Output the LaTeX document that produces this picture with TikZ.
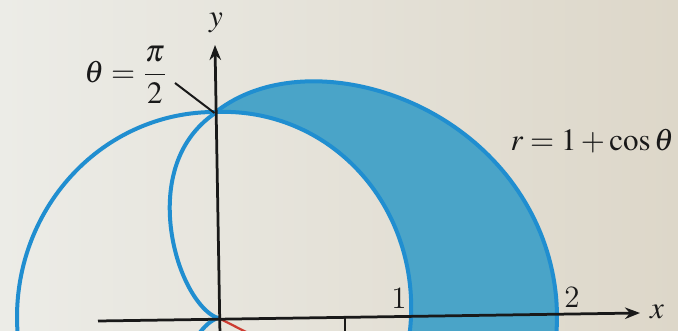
\documentclass[tikz,border=0pt]{standalone}
\usepackage{mathptmx}
\usetikzlibrary{arrows.meta}
\definecolor{cblue}{RGB}{32,142,208}
\definecolor{cfill}{RGB}{74,164,200}
\definecolor{bgL}{RGB}{236,236,231}
\definecolor{bgR}{RGB}{221,215,201}
\definecolor{ink}{RGB}{25,25,25}
\definecolor{cred}{RGB}{205,60,50}
\tikzset{
  curve/.style={cblue, line width=1.6pt, line join=round},
  axisline/.style={ink, line width=1.1pt, -{Stealth[length=6pt,width=4.6pt]}},
  lbl/.style={ink, font=\fontsize{12.4}{14}\selectfont, inner sep=0pt},
  thinline/.style={ink, line width=0.8pt},
}
\begin{document}
\begin{tikzpicture}[x=0.4pt,y=-0.4pt,
  declare function={
    cr(\t)=195.6+151.7*cos(\t)-98*cos(\t)*cos(\t)+93.2*cos(\t)*cos(\t)*cos(\t);
    ci(\t)=196.5+4.5*sin(2*\t);
    gy(\y)=280*\y-75.5*\y*\y;
    lx(\t)=214.5-4.5*cos(\t)+188*(1+cos(\t))*cos(\t);
    ly(\t)=318-gy((1+cos(\t))*sin(\t));
  }]
\useasboundingbox (0,0) rectangle (678,331);
\shade[left color=bgL, right color=bgR] (0,0) rectangle (678,331);

\coordinate (O) at (218.5,318);
\coordinate (P) at (214.5,113);
\coordinate (lead) at (175,83);

% shaded region between circle and cardioid
\fill[cfill] plot[domain=0:98, samples=90] ({214.5+cr(90-\x)*cos(90-\x)},{317-1.043*cr(90-\x)*sin(90-\x)})
  -- plot[domain=-8:90, samples=90] ({214.5+ci(\x)*cos(\x)},{317-1.043*ci(\x)*sin(\x)}) -- cycle;

% circle r = 1
\draw[curve] plot[domain=90:185, samples=70] ({214.5+197.5*cos(\x)},{317-205*sin(\x)});
\draw[curve] plot[domain=-8:90, samples=90] ({214.5+ci(\x)*cos(\x)},{317-1.043*ci(\x)*sin(\x)});

% cardioid r = 1 + cos theta
\draw[curve] plot[domain=-8:90, samples=90] ({214.5+cr(\x)*cos(\x)},{317-1.043*cr(\x)*sin(\x)});
\draw[curve] plot[domain=90:180, samples=80] ({lx(\x)},{ly(\x)});
\draw[curve] plot[domain=180:215, samples=30] ({lx(\x)},{ly(\x)});

% bits of the figure below
\draw[cred, line width=0.9pt] (O) -- (252,335);
\draw[thinline] (345,317) -- (345,336);

% axes
\draw[axisline] (98,321) -- (640,313);
\draw[axisline] (220,336) -- (215,45);

% labels
\node[lbl] (lblY) at (216,23) {$y$};
\node[lbl] (lblX) at (657,312) {$x$};
\node[lbl] (lblOne) at (399,298) {1};
\node[lbl] (lblTwo) at (572,297) {2};
\node[lbl, anchor=west] (lblR) at (510,141) {$r=1+\cos\theta$};
\node[lbl] (lblTheta) at (126,75) {$\displaystyle\theta=\frac{\pi}{2}$};
\draw[thinline] (lead) -- (P);
\end{tikzpicture}
\end{document}
